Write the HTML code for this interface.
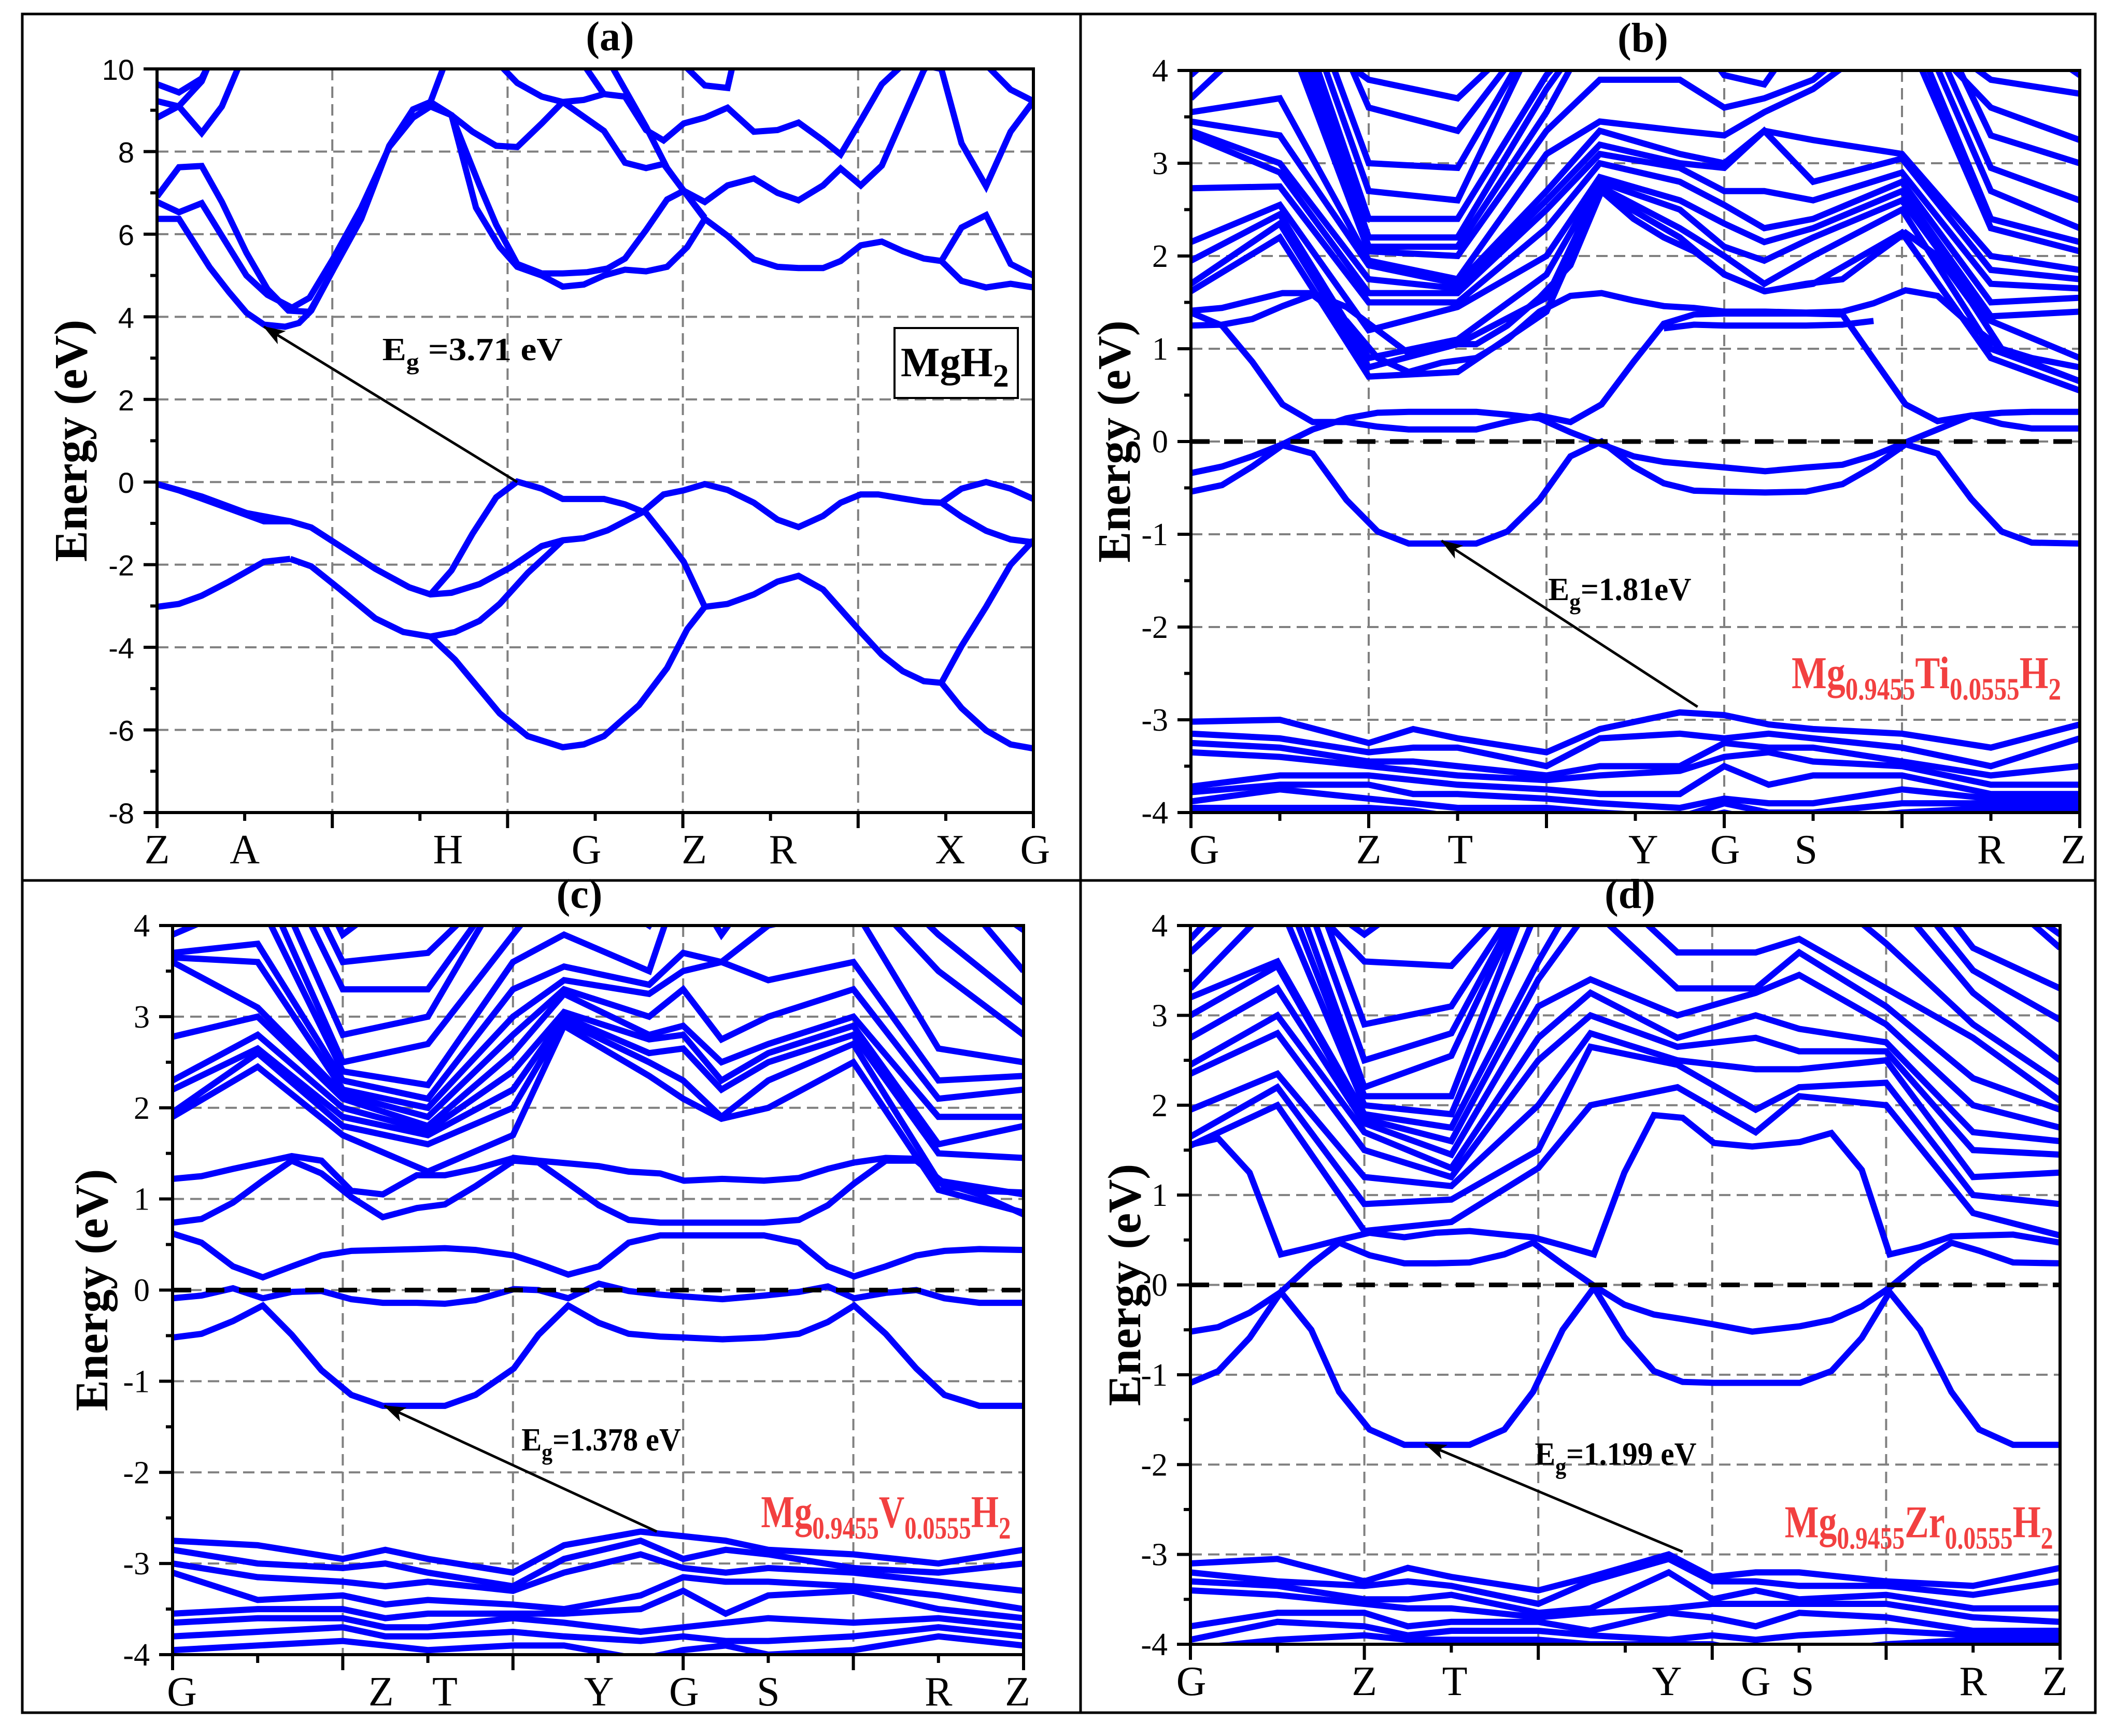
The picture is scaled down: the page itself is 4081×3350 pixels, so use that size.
<!DOCTYPE html>
<html><head><meta charset="utf-8">
<style>
html,body{margin:0;padding:0;background:#fff;}
svg{display:block;}
.tick{font-family:"Liberation Serif",serif;font-size:62px;}
.ticka{font-family:"Liberation Sans Narrow","Liberation Sans",sans-serif;font-size:56px;}
.xl{font-family:"Liberation Serif",serif;font-size:80px;}
.ttl{font-family:"Liberation Serif",serif;font-size:80px;font-weight:bold;}
.ylab{font-family:"Liberation Serif",serif;font-size:90px;font-weight:bold;}
.eg{font-family:"Liberation Serif",serif;font-size:62px;font-weight:bold;}
.red{font-family:"Liberation Serif",serif;font-size:88px;font-weight:bold;fill:#f24040;}
</style></head>
<body>
<svg id="fig" xmlns="http://www.w3.org/2000/svg" width="4081" height="3350" viewBox="0 0 4081 3350">
<defs>
<marker id="ah" markerWidth="44" markerHeight="34" refX="9.5" refY="4" orient="auto" markerUnits="userSpaceOnUse" viewBox="0 0 10 8"><path d="M0,0.5 L10,4 L0,7.5 L2.5,4 Z" fill="#000"/></marker>
</defs>
<rect x="43" y="27" width="4000" height="3278" fill="none" stroke="#000" stroke-width="5"/>
<line x1="2085" y1="27" x2="2085" y2="3305" stroke="#000" stroke-width="5"/>
<line x1="43" y1="1699" x2="4043" y2="1699" stroke="#000" stroke-width="5"/>
</svg>
<script>
// ---------- Panel (a) MgH2 data : [k, E] ----------
const aBands = [
 [[0,-0.05],[0.25,-0.2],[0.82,-0.64],[1.22,-0.95],[1.52,-0.95],[1.76,-1.1],[2.49,-2.1],[2.88,-2.55],[3.12,-2.72],[3.36,-2.68],[3.68,-2.47],[4.03,-2.07],[4.39,-1.55],[4.63,-1.41],[4.87,-1.36],[5.14,-1.17],[5.54,-0.73],[5.78,-0.3],[6.01,-0.2],[6.25,-0.05],[6.51,-0.19],[6.81,-0.5],[7.08,-0.91],[7.32,-1.09],[7.6,-0.82],[7.8,-0.5],[8.03,-0.3],[8.23,-0.3],[8.51,-0.4],[8.75,-0.48],[8.95,-0.5],[9.18,-0.16],[9.46,0],[9.74,-0.16],[10,-0.41]],
 [[0,-0.05],[0.51,-0.35],[1.02,-0.75],[1.52,-0.95]],
 [[1.52,-1.86],[1.76,-2.04],[2.09,-2.6],[2.49,-3.3],[2.81,-3.63],[3.12,-3.74],[3.4,-3.63],[3.68,-3.36],[3.91,-2.95],[4.23,-2.2],[4.47,-1.73],[4.63,-1.41]],
 [[3.12,-3.74],[3.4,-4.3],[3.91,-5.6],[4.23,-6.15],[4.63,-6.42],[4.87,-6.35],[5.1,-6.15],[5.5,-5.4],[5.82,-4.5],[6.05,-3.56],[6.25,-3.02],[6.51,-2.95],[6.81,-2.72],[7.08,-2.41],[7.32,-2.27],[7.6,-2.6],[8.03,-3.63],[8.27,-4.18],[8.51,-4.58],[8.75,-4.82],[8.95,-4.86],[9.18,-5.47],[9.46,-6.01],[9.74,-6.35],[10,-6.45]],
 [[0,-3.02],[0.25,-2.95],[0.51,-2.75],[0.82,-2.41],[1.22,-1.93],[1.52,-1.86]],
 [[3.12,-2.72],[3.36,-2.14],[3.6,-1.25],[3.87,-0.37],[4.11,0.01],[4.39,-0.16],[4.63,-0.41],[5.1,-0.41],[5.34,-0.54],[5.58,-0.75],[5.82,-1.39],[6.01,-1.93],[6.25,-3.02]],
 [[8.95,-4.86],[9.18,-3.97],[9.46,-3.02],[9.74,-2.0],[10,-1.41]],
 [[8.95,-0.5],[9.18,-0.84],[9.46,-1.18],[9.74,-1.39],[10,-1.46]],
 [[0,6.37],[0.25,6.37],[0.6,5.2],[0.82,4.6],[1.02,4.1],[1.22,3.81],[1.46,3.76],[1.62,3.85],[1.76,4.15],[2.01,5.14],[2.33,6.37],[2.65,8.14],[2.92,9.02],[3.12,9.2],[3.36,8.88],[3.6,8.48],[3.87,8.14],[4.11,8.11],[4.39,8.68],[4.63,9.2],[4.87,9.25],[5.1,9.39],[5.34,9.33],[5.58,8.52],[5.78,8.27],[6.01,8.68],[6.25,8.82],[6.51,9.06],[6.81,8.48],[7.08,8.52],[7.32,8.7],[7.6,8.27],[7.8,7.93],[8.03,8.75],[8.27,9.63],[8.51,10.1]],
 [[0,6.78],[0.25,6.53],[0.51,6.75],[0.74,5.96],[1.02,5.0],[1.26,4.53],[1.54,4.22],[1.74,4.46],[2.01,5.41],[2.33,6.64],[2.65,8.11],[2.92,8.82],[3.12,9.09],[3.36,8.88],[3.68,7.18],[3.87,6.23],[4.11,5.28],[4.39,5.05],[4.63,5.05],[4.91,5.08],[5.14,5.17],[5.34,5.41],[5.58,6.1],[5.82,6.84],[6.01,7.05],[6.25,6.78],[6.51,7.18],[6.81,7.35],[7.08,7.0],[7.32,6.82],[7.6,7.18],[7.8,7.59],[8.03,7.18],[8.27,7.66],[8.51,8.82],[8.75,9.97],[8.8,10.1]],
 [[0,6.91],[0.25,7.62],[0.51,7.65],[0.74,6.78],[1.02,5.55],[1.26,4.67],[1.5,4.15],[1.74,4.12],[2.01,5.14]],
 [[3.12,9.2],[3.36,8.88],[3.64,6.64],[3.91,5.69],[4.11,5.21],[4.39,5.0],[4.63,4.73],[4.87,4.78],[5.1,5.0],[5.34,5.14],[5.58,5.1],[5.82,5.21],[6.05,5.69],[6.25,6.37],[6.51,5.96],[6.81,5.39],[7.08,5.21],[7.32,5.18],[7.6,5.18],[7.8,5.35],[8.03,5.73],[8.27,5.82],[8.51,5.59],[8.75,5.41],[8.95,5.35],[9.18,4.87],[9.46,4.71],[9.74,4.8],[10,4.71]],
 [[8.95,5.35],[9.18,6.16],[9.46,6.46],[9.74,5.28],[10,5.0]],
 [[5.18,10.1],[5.58,8.6],[5.82,7.6],[6.01,7.05],[6.25,6.4]],
 [[4.63,9.2],[5.1,8.5],[5.34,7.73],[5.58,7.6],[5.78,7.7],[6.01,7.05],[6.25,6.37]],
 [[0,9.22],[0.25,9.09],[0.51,8.45],[0.74,9.09],[0.94,10.1]],
 [[0,9.63],[0.25,9.43],[0.51,9.77],[0.59,10.1]],
 [[0,8.82],[0.25,9.1],[0.51,9.7],[0.59,10.1]],
 [[3.28,10.1],[3.12,9.2]],
 [[3.91,10.1],[4.11,9.66],[4.39,9.33],[4.63,9.2]],
 [[4.87,10.1],[5.1,9.39]],
 [[6.01,10.1],[6.25,9.6],[6.51,9.54],[6.57,10.1]],
 [[8.71,10.1],[8.95,10.0],[9.18,8.2],[9.46,7.16],[9.74,8.48],[10,9.22]],
 [[9.46,10.1],[9.74,9.5],[10,9.22]]
];
const aLabels = ["Z","A","H","G","Z","R","X","G"];
const aLabelK = [0,1,3.32,4.9,6.13,7.14,9.05,10.02];
const aTicks = [-8,-6,-4,-2,0,2,4,6,8,10];

// ---------- Panel (b) Ti ----------
const bK = [0,0.35,0.69,1.03,1.37,1.75,2.1,2.45,2.82,3.21,3.56,3.92,4.27,4.62,4.98,5.32,5.66,6.01,6.46,6.92,7.33,7.68,8.04,8.4,8.78,9.12,9.46,10];
const bV1 = [-0.54,-0.47,-0.27,-0.04,-0.13,-0.63,-0.97,-1.1,-1.1,-1.1,-0.97,-0.63,-0.16,0.0,-0.27,-0.45,-0.53,-0.54,-0.55,-0.54,-0.46,-0.27,-0.03,-0.13,-0.62,-0.97,-1.09,-1.1];
const bV2 = [-0.34,-0.27,-0.16,-0.03,0.13,0.25,0.31,0.32,0.32,0.32,0.29,0.25,0.1,-0.03,-0.16,-0.22,-0.25,-0.28,-0.32,-0.28,-0.25,-0.15,-0.01,0.13,0.28,0.31,0.32,0.32];
const bC1 = [1.39,1.25,0.86,0.40,0.21,0.21,0.16,0.13,0.13,0.13,0.21,0.28,0.21,0.40,0.86,1.27,1.37,1.38,1.38,1.38,1.37,0.89,0.40,0.22,0.28,0.19,0.14,0.14];
const bC2 = [1.25,1.26,1.32,1.46,1.58,1.3,0.9,0.75,0.85,0.9,1.1,1.4,1.57,1.6,1.52,1.46,1.44,1.4,1.4,1.39,1.4,1.49,1.63,1.57,1.25,1.0,0.85,0.65];
const bC3 = [1.41,1.44,1.52,1.6,1.6,1.45,1.2,0.95,1.05,1.05,1.25,1.55,1.9,2.7,2.4,2.2,2.05,1.8,1.62,1.7,1.75,2.0,2.25,2.0,1.5,1.0,0.9,0.8];
const bFlatK = [5.32,5.66,6.01,6.46,6.92,7.33,7.68];
const bFlatE = [1.22,1.26,1.25,1.25,1.25,1.26,1.3];
const bCK = [0,1,2,3,4,4.6,5.5,6,6.45,7,8,9,10];
const bCL = [
 [1.62,1.7,1.95,2.15,2.73,3.3,3.35,3.45,3.55,3.7,3.95],
 [2.2,2.35,2.45,2.55,2.75,2.9,3.0,3.3,3.7,4.6,4.8,5,5.2,5.4,5.6,5.8],
 [0.7,0.8,0.9,1.2,1.5,1.6,1.75,1.9,1.95,2.05,2.1,2.2,2.4,2.7,3.0,3.6,3.9],
 [0.75,1.05,1.1,1.45,1.5,1.6,1.65,1.7,1.75,2.0,2.1,2.2,2.4,2.6,2.95,3.35,3.7],
 [1.4,1.55,1.8,2.0,2.3,2.5,2.6,2.7,3.1,3.35,3.55,3.8,3.95],
 [2.7,2.75,2.8,2.85,3.0,3.1,3.2,3.35,3.45,3.9],
 [2.2,2.3,2.5,2.6,2.8,2.95,3.0,3.1,3.35,3.9],
 [1.8,2.0,2.1,2.35,2.55,2.7,2.95,3.0,3.3,3.6,3.95],
 [1.62,1.7,1.95,2.15,2.3,2.7,3.35,3.35,3.55,3.7,3.85],
 [1.7,2.0,2.2,2.3,2.4,2.6,2.8,3.25,3.8,3.9],
 [2.25,2.5,2.6,2.7,2.8,2.9,3.05,3.1,4.5,4.7,4.9,5.1,5.3],
 [0.9,1.0,1.3,1.35,1.5,1.7,1.85,2.0,2.3,2.4,2.7,2.95,3.3,3.6,3.9],
 [0.55,0.65,0.9,1.4,1.55,1.65,1.75,1.85,2.05,2.15,2.3,2.6,3.0,3.25,3.75,3.95]
];
const vK = [0,1,2,2.5,3,4,4.6,5.5,6,6.5,7,8,9,10];
const bVL = [
 [-3.02,-3.15,-3.25,-3.35,-3.72,-3.78,-3.88,-3.95],
 [-3.0,-3.2,-3.3,-3.4,-3.6,-3.7,-3.75,-3.95],
 [-3.25,-3.35,-3.45,-3.5,-3.6,-3.7,-3.85,-3.95],
 [-3.1,-3.3,-3.45,-3.55,-3.65,-3.8,-3.9,-3.98],
 [-3.2,-3.3,-3.5,-3.6,-3.7,-3.8,-3.95,-4.05],
 [-3.35,-3.5,-3.6,-3.65,-3.75,-3.85,-3.95,-4.05],
 [-3.1,-3.2,-3.5,-3.6,-3.8,-3.9,-4.0,-4.1],
 [-2.92,-3.15,-3.5,-3.55,-3.8,-3.95,-4.05,-4.1],
 [-2.95,-3.2,-3.25,-3.4,-3.5,-3.85,-3.9,-4.0],
 [-3.05,-3.15,-3.3,-3.35,-3.7,-3.9,-4.0,-4.1],
 [-3.1,-3.2,-3.3,-3.45,-3.6,-3.9,-4.0,-4.1],
 [-3.15,-3.3,-3.45,-3.5,-3.6,-3.75,-3.9,-4.0],
 [-3.3,-3.5,-3.6,-3.7,-3.8,-3.85,-3.9,-3.95],
 [-3.05,-3.2,-3.5,-3.7,-3.8,-3.85,-3.9,-3.95]
];
const bLabels = ["G","Z","T","Y","G","S","R","Z"];
const bLabelK = [0.15,2,3.03,5.09,6.01,6.92,9,9.93];

// ---------- Panel (c) V ----------
const cK = [0,0.34,0.71,1.06,1.4,1.75,2.1,2.47,2.87,3.2,3.56,4.01,4.3,4.65,5.01,5.36,5.73,6.01,6.46,6.95,7.36,7.7,8.01,8.38,8.74,9.07,9.48,10];
const cV1 = [-0.09,-0.06,0.02,-0.09,-0.02,-0.01,-0.1,-0.14,-0.14,-0.15,-0.11,0.01,0.0,-0.09,0.07,-0.01,-0.05,-0.07,-0.1,-0.06,-0.02,0.04,-0.09,-0.03,0.0,-0.09,-0.14,-0.14];
const cV2 = [-0.52,-0.48,-0.34,-0.17,-0.49,-0.88,-1.15,-1.27,-1.27,-1.27,-1.15,-0.86,-0.49,-0.17,-0.36,-0.48,-0.51,-0.52,-0.54,-0.52,-0.48,-0.35,-0.17,-0.48,-0.86,-1.15,-1.27,-1.27];
const cC1 = [0.62,0.52,0.26,0.14,0.26,0.38,0.43,0.44,0.45,0.46,0.44,0.38,0.29,0.17,0.26,0.52,0.6,0.6,0.6,0.6,0.52,0.26,0.15,0.26,0.38,0.43,0.45,0.44];
const cC2 = [0.74,0.78,0.96,1.2,1.42,1.28,1.02,0.8,0.9,0.94,1.14,1.42,1.4,1.17,0.93,0.77,0.74,0.74,0.74,0.74,0.77,0.93,1.17,1.42,1.42,1.17,1.05,0.83];
const cC3 = [1.22,1.25,1.33,1.4,1.47,1.42,1.09,1.05,1.26,1.26,1.33,1.45,1.42,1.39,1.36,1.3,1.28,1.2,1.22,1.2,1.23,1.33,1.4,1.45,1.44,1.14,1.09,1.07];
const cCK = [0,1,2,3,4,4.6,5.6,6,6.45,7,8,9,10];
const cCL = [
 [1.9,1.95,2.2,2.3,2.78,3.6,3.65,3.7,3.9],
 [2.45,2.6,2.65,2.8,3.0,3.1,3.6,3.8,4.3,4.6,4.9,5.2,5.5,5.8],
 [1.7,1.8,1.9,2.0,2.1,2.15,2.2,2.3,2.4,2.5,2.8,3.3,3.6,3.9],
 [1.3,1.6,1.7,1.75,1.8,1.9,2.0,2.1,2.25,2.7,3.0,3.3,3.7],
 [1.7,2.0,2.2,2.4,2.6,2.8,3.0,3.3,3.6,3.9],
 [2.9,2.95,3.0,3.05,3.25,3.3,3.4,3.55,3.9],
 [2.35,2.5,2.6,2.75,2.8,3.0,3.25,3.35,3.5,4.0],
 [2.1,2.3,2.65,2.8,2.9,3.3,3.5,3.7],
 [1.88,1.9,2.2,2.3,2.5,2.75,3.6,3.6,3.9],
 [2.0,2.3,2.5,2.6,2.7,3.0,3.4,4.0],
 [2.5,2.7,2.8,2.9,3.0,3.3,3.6,4.2,4.5,4.8,5.1],
 [1.1,1.2,1.5,1.6,1.9,2.1,2.3,2.65,3.5,3.9],
 [0.85,1.05,1.45,1.8,1.9,2.2,2.35,2.5,2.8,3.15,3.5,3.95]
];
const cVL = [
 [-2.75,-2.85,-3.0,-3.1,-3.55,-3.65,-3.8,-3.95],
 [-2.8,-3.0,-3.15,-3.4,-3.5,-3.6,-3.75,-3.9],
 [-2.95,-3.05,-3.2,-3.35,-3.5,-3.6,-3.7,-3.85],
 [-2.85,-3.0,-3.25,-3.45,-3.6,-3.7,-3.8,-3.9],
 [-2.95,-3.1,-3.2,-3.4,-3.55,-3.7,-3.8,-3.95],
 [-3.1,-3.25,-3.3,-3.45,-3.55,-3.6,-3.75,-3.9],
 [-2.8,-2.95,-3.1,-3.5,-3.55,-3.65,-3.8,-3.9],
 [-2.65,-2.75,-2.9,-3.35,-3.5,-3.75,-3.85,-4.05],
 [-2.7,-2.95,-3.05,-3.15,-3.3,-3.7,-3.8,-3.95],
 [-2.75,-2.85,-3.1,-3.2,-3.55,-3.65,-3.85,-3.9],
 [-2.85,-2.9,-3.05,-3.2,-3.35,-3.6,-3.85,-4.0],
 [-2.9,-3.05,-3.1,-3.25,-3.3,-3.65,-3.8,-3.95],
 [-3.0,-3.1,-3.2,-3.35,-3.5,-3.6,-3.7,-3.8],
 [-2.85,-3.0,-3.3,-3.5,-3.6,-3.7,-3.8,-3.9]
];
const cLabels = ["G","Z","T","Y","G","S","R","Z"];
const cLabelK = [0.11,2.45,3.2,5.01,6.01,7.0,9.0,9.93];

// ---------- Panel (d) Zr ----------
const dK = [0,0.32,0.68,1.04,1.39,1.71,2.06,2.46,2.82,3.21,3.61,3.94,4.28,4.64,4.99,5.33,5.66,6.02,6.46,7.01,7.37,7.72,8.04,8.39,8.75,9.07,9.46,10];
const dV1 = [-1.09,-0.96,-0.59,-0.08,-0.5,-1.19,-1.61,-1.78,-1.78,-1.78,-1.61,-1.19,-0.5,-0.03,-0.58,-0.96,-1.08,-1.09,-1.09,-1.09,-0.96,-0.59,-0.08,-0.5,-1.19,-1.61,-1.78,-1.78];
const dV2 = [-0.52,-0.47,-0.31,-0.08,0.23,0.47,0.33,0.24,0.24,0.25,0.34,0.47,0.23,-0.01,-0.22,-0.33,-0.38,-0.44,-0.52,-0.46,-0.39,-0.24,-0.03,0.25,0.47,0.38,0.25,0.24];
const dC1 = [1.56,1.63,1.25,0.34,0.42,0.5,0.58,0.53,0.58,0.6,0.56,0.53,0.44,0.34,1.25,1.89,1.86,1.58,1.54,1.59,1.69,1.28,0.34,0.42,0.54,0.55,0.56,0.47];
const dCK = [0,1,2,3,4,4.6,5.6,6.5,7,8,9,10];
const dCL = [
 [1.55,1.65,1.95,2.35,2.45,2.75,3.0,3.2,3.3,3.7,3.85],
 [2.0,2.2,2.35,2.8,3.0,3.3,3.55,3.6,4.3,4.6,4.9,5.2,5.5],
 [0.6,0.9,1.2,1.5,1.7,1.8,1.85,1.9,2.0,2.1,2.2,2.5,2.9,3.6,3.9],
 [0.7,0.95,1.1,1.2,1.3,1.45,1.6,1.75,1.9,2.1,2.55,2.8,3.1,3.55],
 [1.3,1.5,2.0,2.5,2.75,3.1,3.4,3.6,4.2],
 [2.0,2.65,2.8,3.0,3.25,3.4,4.2],
 [2.2,2.45,2.5,2.65,2.75,3.0,3.3,3.7],
 [1.7,1.95,2.4,2.75,3.0,3.25,3.3,3.7],
 [2.1,2.2,2.4,2.6,2.85,3.45,3.7,3.85],
 [2.0,2.25,2.5,2.6,2.7,2.9,3.1,3.3,3.8,4.4,4.7,5.0],
 [0.8,1.0,1.2,1.5,1.7,2.0,2.3,2.75,2.9,3.25,3.5,3.75],
 [0.55,0.9,1.25,1.45,1.6,1.75,1.95,2.05,2.25,2.5,2.95,3.3,3.75,3.9]
];
const dVL = [
 [-3.1,-3.2,-3.3,-3.4,-3.8,-3.95,-4.05],
 [-3.05,-3.3,-3.35,-3.45,-3.65,-3.75,-3.95],
 [-3.3,-3.35,-3.5,-3.55,-3.65,-3.8,-3.9],
 [-3.15,-3.3,-3.5,-3.6,-3.8,-3.9,-3.95],
 [-3.25,-3.35,-3.45,-3.6,-3.75,-3.85,-3.95],
 [-3.4,-3.55,-3.65,-3.7,-3.75,-3.85,-3.95],
 [-3.25,-3.3,-3.6,-3.65,-3.85,-3.9,-4.0],
 [-3.0,-3.05,-3.2,-3.6,-3.65,-3.95,-4.0],
 [-3.25,-3.3,-3.5,-3.55,-3.7,-3.9,-4.0],
 [-3.2,-3.3,-3.4,-3.55,-3.8,-3.95,-4.1],
 [-3.2,-3.35,-3.5,-3.55,-3.65,-3.9,-4.1],
 [-3.3,-3.35,-3.45,-3.55,-3.7,-3.85,-4.0],
 [-3.35,-3.45,-3.6,-3.7,-3.85,-3.9,-3.95],
 [-3.15,-3.3,-3.6,-3.75,-3.85,-3.9,-3.95]
];
const dLabels = ["G","Z","T","Y","G","S","R","Z"];
const dLabelK = [0.01,2.0,3.04,5.48,6.5,7.04,9.0,9.94];
const bcdTicks = [-4,-3,-2,-1,0,1,2,3,4];

// ---------- Gap annotations [kVBM, EVBM, kCBM, ECBM] ----------
const aArrow = [4.11,0.0,1.22,3.76];
const bArrow = [5.70,-2.86,2.82,-1.07];
const cArrow = [5.69,-2.65,2.49,-1.27];
const dArrow = [5.66,-2.97,2.70,-1.77];

// ---------- rendering ----------
const NS = "http://www.w3.org/2000/svg";
const svg = document.getElementById("fig");
function mk(tag, attrs, parent){
  const e = document.createElementNS(NS, tag);
  for (const k in attrs) e.setAttribute(k, attrs[k]);
  (parent||svg).appendChild(e);
  return e;
}
function makePanel(id, box, ymin, ymax, majorTicks, minorStep, tickClass){
  const g = mk("g", {});
  
  
  const P = {g, box, ymin, ymax,
    x: k => box.x0 + (box.x1 - box.x0) * k / 10,
    y: e => box.y1 - (box.y1 - box.y0) * (e - ymin) / (ymax - ymin)};
  const cp = mk("clipPath", {id: "clip-" + id}, g);
  mk("rect", {x: box.x0, y: box.y0, width: box.x1 - box.x0, height: box.y1 - box.y0}, cp);
  const grid = mk("g", {stroke: "#808080", "stroke-width": 4, "stroke-dasharray": "22 12", fill: "none"}, g);
  
  
  [2,4,6,8].forEach(k => mk("line", {x1: P.x(k), x2: P.x(k), y1: box.y0, y2: box.y1}, grid));
  majorTicks.forEach(t => { if (t > ymin && t < ymax) mk("line", {x1: box.x0, x2: box.x1, y1: P.y(t), y2: P.y(t)}, grid); });
  P.bandG = mk("g", {"clip-path": "url(#clip-" + id + ")", fill: "none", stroke: "#0000ff", "stroke-width": 12, "stroke-linejoin": "miter", "stroke-miterlimit": 3}, g);
  
  
  P.overlay = mk("g", {}, g);
  const ax = mk("g", {stroke: "#000", "stroke-width": 6, fill: "none"}, g);
  
  
  mk("rect", {x: box.x0, y: box.y0, width: box.x1 - box.x0, height: box.y1 - box.y0}, ax);
  for (let i = 0; i <= 10; i++) {
    const len = (i % 2 === 0) ? 30 : 16;
    mk("line", {x1: P.x(i), x2: P.x(i), y1: box.y1, y2: box.y1 + len}, ax);
  }
  for (let v = ymin; v <= ymax + 1e-6; v += minorStep) {
    const major = majorTicks.some(t => Math.abs(t - v) < 1e-6);
    mk("line", {x1: box.x0 - (major ? 26 : 13), x2: box.x0, y1: P.y(v), y2: P.y(v)}, ax);
  }
  majorTicks.forEach(t => {
    const tx = mk("text", {x: box.x0 - 44, y: P.y(t) + 21, "text-anchor": "end", class: tickClass}, g);
    
    
    tx.textContent = String(t);
  });
  return P;
}
function drawLine(P, pts){
  const d = pts.map((p, i) => (i ? "L" : "M") + P.x(p[0]).toFixed(1) + "," + P.y(p[1]).toFixed(1)).join(" ");
  const path = mk("path", {d}, P.bandG);
  
  
}
function drawKE(P, ks, es){ drawLine(P, ks.map((k, i) => [k, es[i]])); }
function drawLevels(P, ks, levels, pad){
  const n = Math.max(...levels.map(l => l.length));
  for (let r = 0; r < n; r++) {
    drawLine(P, ks.map((k, i) => [k, levels[i][r] !== undefined ? levels[i][r] : pad]));
  }
}
function xLabels(P, names, ks){
  names.forEach((n, i) => {
    const t = mk("text", {x: P.x(ks[i]), y: P.box.y1 + 98, "text-anchor": "middle", class: "xl"}, P.g);
    
    
    t.textContent = n;
  });
}
function title(P, txt, cx, y){
  const t = mk("text", {x: cx, y: y, "text-anchor": "middle", class: "ttl"}, P.g);
  
  
  t.textContent = txt;
}
function ylabel(P, cx){
  const cy = (P.box.y0 + P.box.y1) / 2;
  const t = mk("text", {x: cx, y: cy, "text-anchor": "middle", class: "ylab", transform: "rotate(-90 " + cx + " " + cy + ") translate(0 30)"}, P.g);
  
  
  t.textContent = "Energy (eV)";
}
function zeroLine(P){
  const l = mk("line", {x1: P.box.x0, x2: P.box.x1, y1: P.y(0), y2: P.y(0), stroke: "#000", "stroke-width": 9, "stroke-dasharray": "36 28"}, P.overlay);
  
  
}
function gapArrow(P, a){
  const l = mk("line", {x1: P.x(a[0]), y1: P.y(a[1]), x2: P.x(a[2]), y2: P.y(a[3]), stroke: "#000", "stroke-width": 5, "marker-end": "url(#ah)"}, P.overlay);
  
  
}
function egText(P, k, e, val, w){
  const t = mk("text", {x: P.x(k), y: P.y(e), class: "eg", textLength: w, lengthAdjust: "spacingAndGlyphs"}, P.overlay);
  
  
  t.innerHTML = 'E<tspan dy="18" font-size="44">g</tspan><tspan dy="-18">' + val + '</tspan>';
}
function redLabel(P, kRight, e, dopant, w){
  const t = mk("text", {x: P.x(kRight), y: P.y(e), class: "red", "text-anchor": "end", textLength: w, lengthAdjust: "spacingAndGlyphs"}, P.overlay);
  
  
  t.innerHTML = 'Mg<tspan dy="22" font-size="60">0.9455</tspan><tspan dy="-22">' + dopant + '</tspan><tspan dy="22" font-size="60">0.0555</tspan><tspan dy="-22">H</tspan><tspan dy="22" font-size="60">2</tspan>';
}

// Panel a
const A = makePanel("a", {x0: 303, x1: 1994, y0: 133, y1: 1568}, -8, 10, aTicks, 1, "ticka");
aBands.forEach(b => drawLine(A, b));
xLabels(A, aLabels, aLabelK);
title(A, "(a)", 1177, 97);
ylabel(A, 137);
gapArrow(A, aArrow);
egText(A, 2.57, 2.95, " =3.71 eV", 348);
const mbox = mk("rect", {x: 1726, y: 633, width: 238, height: 135, fill: "#fff", stroke: "#000", "stroke-width": 4}, A.overlay);


const mtxt = mk("text", {x: 1738, y: 726, class: "ttl", "font-size": "90px"}, A.overlay);


mtxt.innerHTML = 'MgH<tspan dy="20" font-size="62">2</tspan>';

// Panel b
const B = makePanel("b", {x0: 2298, x1: 4013, y0: 136, y1: 1568}, -4, 4, bcdTicks, 0.5, "tick");
drawLevels(B, bCK, bCL, 4.6);
drawLevels(B, vK, bVL, -4.3);
[bV1, bV2, bC1, bC2, bC3].forEach(e => drawKE(B, bK, e));
drawKE(B, bFlatK, bFlatE);
zeroLine(B);
xLabels(B, bLabels, bLabelK);
title(B, "(b)", 3170, 100);
ylabel(B, 2150);
gapArrow(B, bArrow);
egText(B, 4.02, -1.71, "=1.81eV", 276);
redLabel(B, 9.79, -2.66, "Ti", 520);

// Panel c
const C = makePanel("c", {x0: 333, x1: 1975, y0: 1786, y1: 3193}, -4, 4, bcdTicks, 0.5, "tick");
drawLevels(C, cCK, cCL, 4.6);
drawLevels(C, vK, cVL, -4.3);
[cV1, cV2, cC1, cC2, cC3].forEach(e => drawKE(C, cK, e));
zeroLine(C);
xLabels(C, cLabels, cLabelK);
title(C, "(c)", 1118, 1752);
ylabel(C, 177);
gapArrow(C, cArrow);
egText(C, 4.1, -1.76, "=1.378 eV", 308);
redLabel(C, 9.85, -2.6, "V", 482);

// Panel d
const D = makePanel("d", {x0: 2297, x1: 3975, y0: 1786, y1: 3173}, -4, 4, bcdTicks, 0.5, "tick");
drawLevels(D, dCK, dCL, 4.6);
drawLevels(D, vK, dVL, -4.3);
[dV1, dV2, dC1].forEach(e => drawKE(D, dK, e));
zeroLine(D);
xLabels(D, dLabels, dLabelK);
title(D, "(d)", 3145, 1752);
ylabel(D, 2170);
gapArrow(D, dArrow);
egText(D, 3.96, -2.0, "=1.199 eV", 312);
redLabel(D, 9.92, -2.81, "Zr", 518);
</script>
</body></html>
